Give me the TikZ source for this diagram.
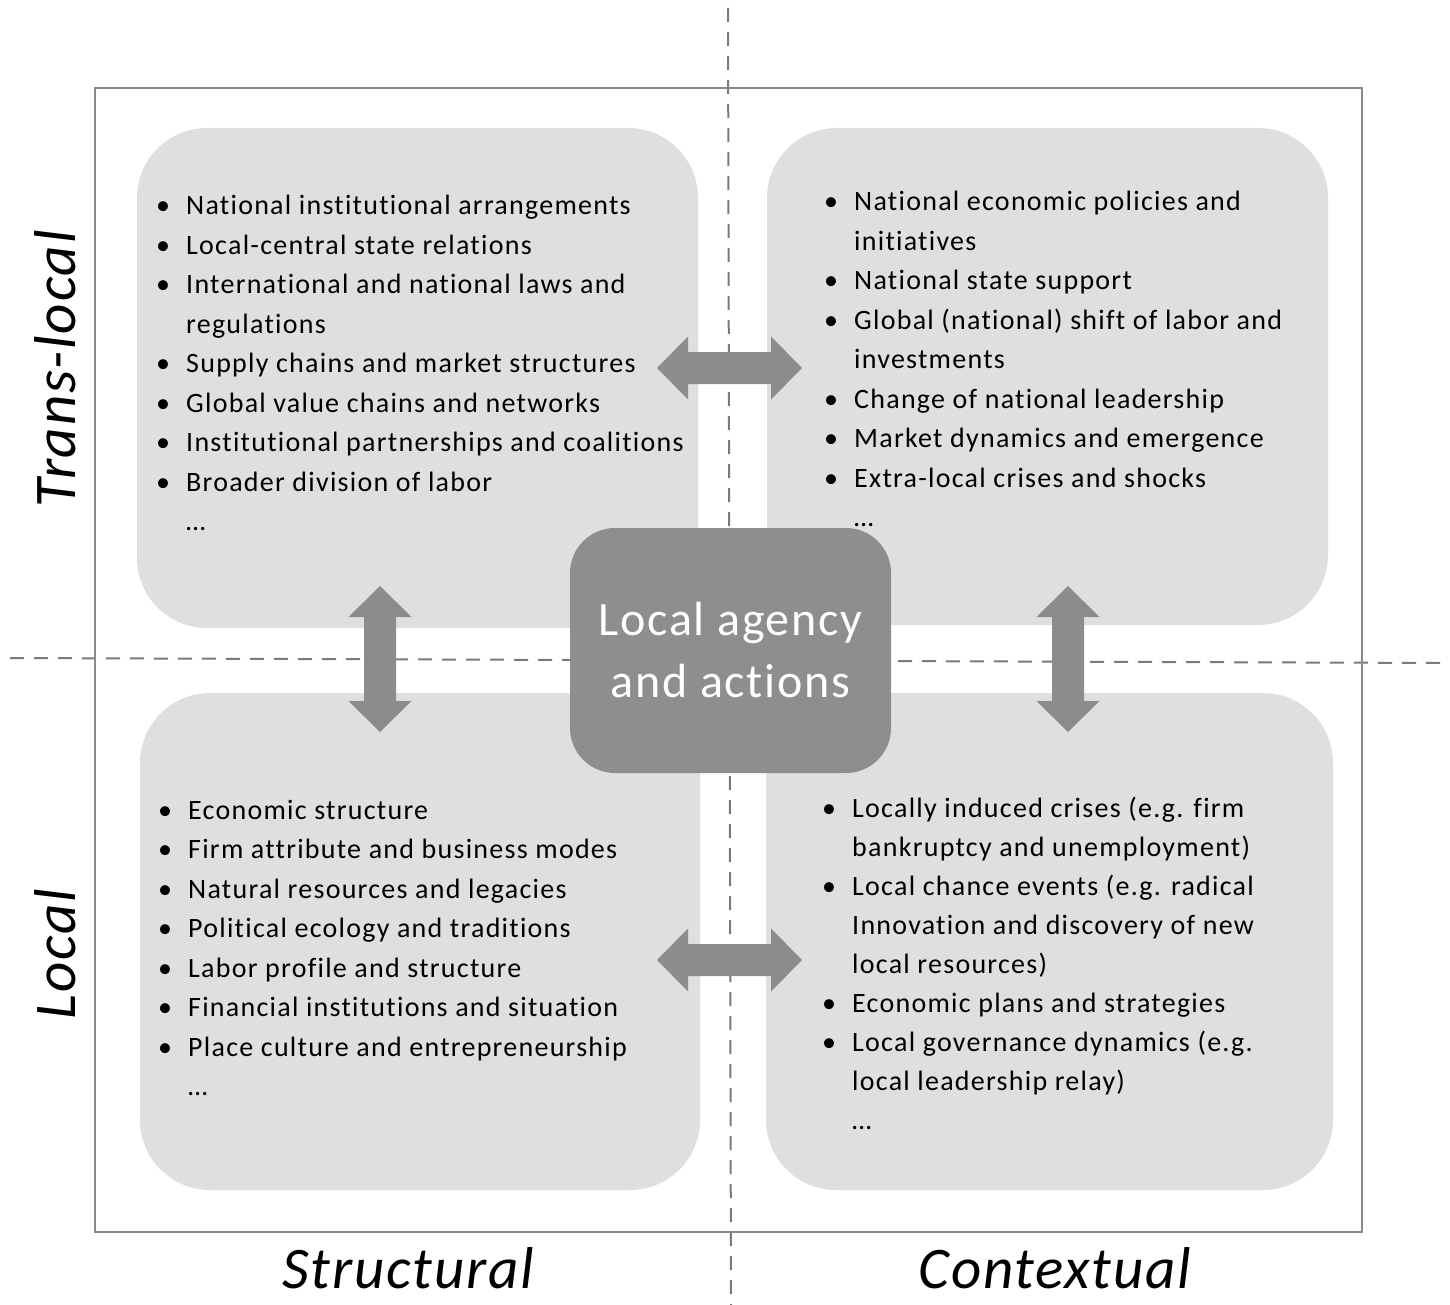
\documentclass[tikz,border=0pt]{standalone}
\usepackage{fontspec}
\setmainfont{Carlito}[Ligatures=NoCommon, LetterSpace=4.5]
\newfontfamily\centerfont{Carlito}[Ligatures=NoCommon, LetterSpace=3.5]
\newfontfamily\axisfont{Carlito}[Ligatures=NoCommon, LetterSpace=3]
\definecolor{boxfill}{HTML}{DFDFDF}
\definecolor{agencyfill}{HTML}{8E8E8E}
\definecolor{arrowfill}{HTML}{8C8C8C}
\definecolor{framegray}{HTML}{8A8A8A}
\definecolor{dashgray}{HTML}{7A7A7A}
\newcommand{\bul}{\llap{\makebox[30pt][l]{•}}}
\begin{document}
\begin{tikzpicture}[x=1pt,y=-1pt,
  quad/.style={fill=boxfill, rounded corners=70pt, draw=none, inner sep=0pt},
  listtext/.style={anchor=base west, inner sep=0pt, font=\fontsize{28}{39.5}\selectfont},
  axislabel/.style={inner sep=0pt, font=\axisfont\fontsize{59}{60}\selectfont\itshape},
  agencybox/.style={fill=agencyfill, rounded corners=45pt, inner sep=0pt, text=white,
     minimum width=321pt, minimum height=245pt, align=center, font=\centerfont\fontsize{48}{62}\selectfont},
  axisdash/.style={draw=dashgray, line width=2pt, dash pattern=on 14pt off 10pt},
  harr/.pic={\fill[arrowfill] (-72.5,0) -- (-41.5,-31.5) -- (-41.5,-16) -- (41.5,-16) -- (41.5,-31.5) -- (72.5,0) -- (41.5,31.5) -- (41.5,16) -- (-41.5,16) -- (-41.5,31.5) -- cycle;},
  varr/.pic={\fill[arrowfill] (0,-73) -- (31.5,-42) -- (16,-42) -- (16,42) -- (31.5,42) -- (0,73) -- (-31.5,42) -- (-16,42) -- (-16,-42) -- (-31.5,-42) -- cycle;}
]
\useasboundingbox (0,0) rectangle (1450,1305);
\fill[white] (0,0) rectangle (1450,1305);

% axes
\coordinate (vtop) at (728,8);
\coordinate (vbot) at (731,1305);
\coordinate (hleft) at (10,658);
\coordinate (hright) at (1450,663);
\draw[axisdash] (vtop) -- (vbot);
\draw[axisdash] (hleft) -- (hright);

% frame
\draw[framegray, line width=2.5pt] (95,88) rectangle (1362,1232);

% quadrant boxes
\node[quad, minimum width=561pt, minimum height=500pt] (q1) at (417.5,378) {};
\node[quad, minimum width=561pt, minimum height=497pt] (q2) at (1047.5,376.5) {};
\node[quad, minimum width=560pt, minimum height=497pt] (q3) at (420,941.5) {};
\node[quad, minimum width=567pt, minimum height=497pt] (q4) at (1049.5,941.5) {};

% lists
\node[listtext] (tl) at (186,215) {\begin{tabular}[t]{@{}l@{}}
\bul National institutional arrangements\\
\bul Local-central state relations\\
\bul International and national laws and\\
regulations\\
\bul Supply chains and market structures\\
\bul Global value chains and networks\\
\bul Institutional partnerships and coalitions\\
\bul Broader division of labor\\
…
\end{tabular}};

\node[listtext] (tr) at (854,211) {\begin{tabular}[t]{@{}l@{}}
\bul National economic policies and\\
initiatives\\
\bul National state support\\
\bul Global (national) shift of labor and\\
investments\\
\bul Change of national leadership\\
\bul Market dynamics and emergence\\
\bul Extra-local crises and shocks\\
…
\end{tabular}};

\node[listtext] (bl) at (188,819) {\begin{tabular}[t]{@{}l@{}}
\bul Economic structure\\
\bul Firm attribute and business modes\\
\bul Natural resources and legacies\\
\bul Political ecology and traditions\\
\bul Labor profile and structure\\
\bul Financial institutions and situation\\
\bul Place culture and entrepreneurship\\
…
\end{tabular}};

\node[listtext, font=\fontsize{28}{39}\selectfont] (br) at (852,817) {\begin{tabular}[t]{@{}l@{}}
\bul Locally induced crises (e.g. firm\\
bankruptcy and unemployment)\\
\bul Local chance events (e.g. radical\\
Innovation and discovery of new\\
local resources)\\
\bul Economic plans and strategies\\
\bul Local governance dynamics (e.g.\\
local leadership relay)\\
…
\end{tabular}};

% arrows
\pic at (729.5,368) {harr};
\pic at (729.5,960) {harr};
\pic at (380,659) {varr};
\pic at (1068,659) {varr};

% center
\node[agencybox] (agency) at (730.5,650.5) {Local agency\\and actions};

% axis labels
\node[axislabel, rotate=90] (translocal) at (55,369) {Trans-local};
\node[axislabel, rotate=90] (local) at (55,954) {Local};
\node[axislabel] (structural) at (408,1268) {Structural};
\node[axislabel] (contextual) at (1055,1268) {Contextual};
\end{tikzpicture}
\end{document}
